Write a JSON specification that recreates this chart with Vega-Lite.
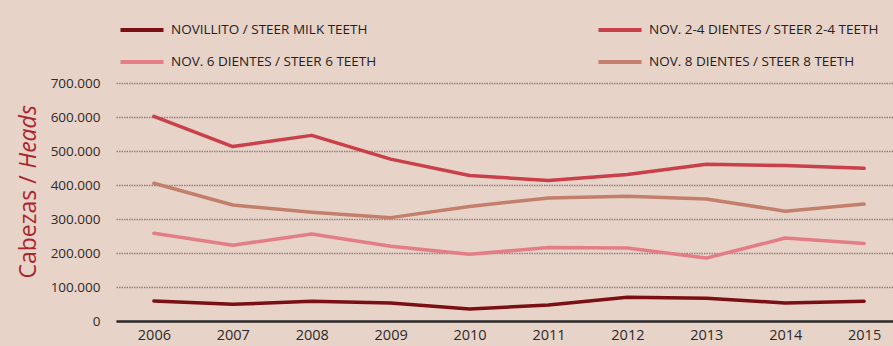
{
  "$schema": "https://vega.github.io/schema/vega-lite/v6.json",
  "autosize": "none",
  "width": 786,
  "height": 238,
  "padding": {"left": 116, "top": 83, "right": 0, "bottom": 25},
  "background": "#E8D3C9",
  "config": {
    "locale": {"number": {"decimal": ",", "thousands": ".", "grouping": [3], "currency": ["", " €"]}},
    "font": "Open Sans",
    "view": {"stroke": null}
  },
  "data": {
    "values": [
      {"year": "2006", "series": "NOVILLITO / STEER MILK TEETH", "value": 59000},
      {"year": "2007", "series": "NOVILLITO / STEER MILK TEETH", "value": 49000},
      {"year": "2008", "series": "NOVILLITO / STEER MILK TEETH", "value": 58000},
      {"year": "2009", "series": "NOVILLITO / STEER MILK TEETH", "value": 53000},
      {"year": "2010", "series": "NOVILLITO / STEER MILK TEETH", "value": 35000},
      {"year": "2011", "series": "NOVILLITO / STEER MILK TEETH", "value": 47000},
      {"year": "2012", "series": "NOVILLITO / STEER MILK TEETH", "value": 70000},
      {"year": "2013", "series": "NOVILLITO / STEER MILK TEETH", "value": 67000},
      {"year": "2014", "series": "NOVILLITO / STEER MILK TEETH", "value": 53000},
      {"year": "2015", "series": "NOVILLITO / STEER MILK TEETH", "value": 58000},
      {"year": "2006", "series": "NOV. 2-4 DIENTES / STEER 2-4 TEETH", "value": 602000},
      {"year": "2007", "series": "NOV. 2-4 DIENTES / STEER 2-4 TEETH", "value": 513000},
      {"year": "2008", "series": "NOV. 2-4 DIENTES / STEER 2-4 TEETH", "value": 546000},
      {"year": "2009", "series": "NOV. 2-4 DIENTES / STEER 2-4 TEETH", "value": 476000},
      {"year": "2010", "series": "NOV. 2-4 DIENTES / STEER 2-4 TEETH", "value": 428000},
      {"year": "2011", "series": "NOV. 2-4 DIENTES / STEER 2-4 TEETH", "value": 413000},
      {"year": "2012", "series": "NOV. 2-4 DIENTES / STEER 2-4 TEETH", "value": 431000},
      {"year": "2013", "series": "NOV. 2-4 DIENTES / STEER 2-4 TEETH", "value": 461000},
      {"year": "2014", "series": "NOV. 2-4 DIENTES / STEER 2-4 TEETH", "value": 457000},
      {"year": "2015", "series": "NOV. 2-4 DIENTES / STEER 2-4 TEETH", "value": 449000},
      {"year": "2006", "series": "NOV. 6 DIENTES / STEER 6 TEETH", "value": 258000},
      {"year": "2007", "series": "NOV. 6 DIENTES / STEER 6 TEETH", "value": 223000},
      {"year": "2008", "series": "NOV. 6 DIENTES / STEER 6 TEETH", "value": 256000},
      {"year": "2009", "series": "NOV. 6 DIENTES / STEER 6 TEETH", "value": 220000},
      {"year": "2010", "series": "NOV. 6 DIENTES / STEER 6 TEETH", "value": 196000},
      {"year": "2011", "series": "NOV. 6 DIENTES / STEER 6 TEETH", "value": 216000},
      {"year": "2012", "series": "NOV. 6 DIENTES / STEER 6 TEETH", "value": 215000},
      {"year": "2013", "series": "NOV. 6 DIENTES / STEER 6 TEETH", "value": 185000},
      {"year": "2014", "series": "NOV. 6 DIENTES / STEER 6 TEETH", "value": 244000},
      {"year": "2015", "series": "NOV. 6 DIENTES / STEER 6 TEETH", "value": 228000},
      {"year": "2006", "series": "NOV. 8 DIENTES / STEER 8 TEETH", "value": 405000},
      {"year": "2007", "series": "NOV. 8 DIENTES / STEER 8 TEETH", "value": 341000},
      {"year": "2008", "series": "NOV. 8 DIENTES / STEER 8 TEETH", "value": 320000},
      {"year": "2009", "series": "NOV. 8 DIENTES / STEER 8 TEETH", "value": 304000},
      {"year": "2010", "series": "NOV. 8 DIENTES / STEER 8 TEETH", "value": 337000},
      {"year": "2011", "series": "NOV. 8 DIENTES / STEER 8 TEETH", "value": 362000},
      {"year": "2012", "series": "NOV. 8 DIENTES / STEER 8 TEETH", "value": 367000},
      {"year": "2013", "series": "NOV. 8 DIENTES / STEER 8 TEETH", "value": 359000},
      {"year": "2014", "series": "NOV. 8 DIENTES / STEER 8 TEETH", "value": 323000},
      {"year": "2015", "series": "NOV. 8 DIENTES / STEER 8 TEETH", "value": 344000}
    ]
  },
  "encoding": {
    "x": {
      "field": "year", "type": "ordinal",
      "scale": {"type": "point", "padding": 0.48},
      "axis": {
        "title": null, "labelAngle": 0, "ticks": false,
        "domainColor": "#2b2b2b", "domainWidth": 2.5,
        "labelFontSize": 14.5, "labelColor": "#2b2b2b", "labelPadding": 7
      }
    }
  },
  "layer": [
    {
      "mark": {"type": "line", "strokeWidth": 3.5, "strokeCap": "round", "strokeJoin": "round"},
      "encoding": {
        "y": {
          "field": "value", "type": "quantitative",
          "scale": {"domain": [0, 700000], "nice": false},
          "axis": {
            "title": "Cabezas / ", "titleFontSize": 23, "titleFontWeight": "normal",
            "titleColor": "#A8262E", "titleAngle": -90, "titleX": -81, "titleY": 195,
            "titleAlign": "left", "titleBaseline": "alphabetic",
            "values": [0, 100000, 200000, 300000, 400000, 500000, 600000, 700000],
            "format": ",d", "labelFontSize": 13.5, "labelColor": "#2b2b2b", "labelPadding": 16,
            "ticks": false, "domain": false,
            "grid": true, "gridColor": "#8a8380", "gridDash": [1.5, 1], "gridWidth": 1.5
          }
        },
        "color": {
          "field": "series", "type": "nominal",
          "scale": {
            "domain": ["NOVILLITO / STEER MILK TEETH", "NOV. 2-4 DIENTES / STEER 2-4 TEETH", "NOV. 6 DIENTES / STEER 6 TEETH", "NOV. 8 DIENTES / STEER 8 TEETH"],
            "range": ["#7A1013", "#C93F4A", "#E37E86", "#C27F6C"]
          },
          "legend": {
            "title": null, "orient": "none", "legendX": 2, "legendY": -77,
            "direction": "horizontal", "columns": 2, "columnPadding": 213, "rowPadding": -10,
            "symbolType": "stroke", "symbolStrokeWidth": 4, "symbolSize": 1850,
            "labelFontSize": 13.5, "labelColor": "#222222", "labelLimit": 400, "labelOffset": 5
          }
        }
      }
    },
    {
      "mark": {"type": "line", "strokeOpacity": 0},
      "encoding": {
        "detail": {"field": "series", "type": "nominal"},
        "y": {
          "field": "value", "type": "quantitative",
          "scale": {"domain": [0, 700000], "nice": false},
          "axis": {
            "orient": "right",
            "title": "Heads", "titleFontSize": 23, "titleFontWeight": "normal", "titleFontStyle": "italic",
            "titleColor": "#A8262E", "titleAngle": -90, "titleX": -867, "titleY": 85,
            "titleAlign": "left", "titleBaseline": "alphabetic",
            "labels": false, "ticks": false, "domain": false, "grid": false
          }
        }
      }
    }
  ],
  "resolve": {"scale": {"y": "independent"}}
}
